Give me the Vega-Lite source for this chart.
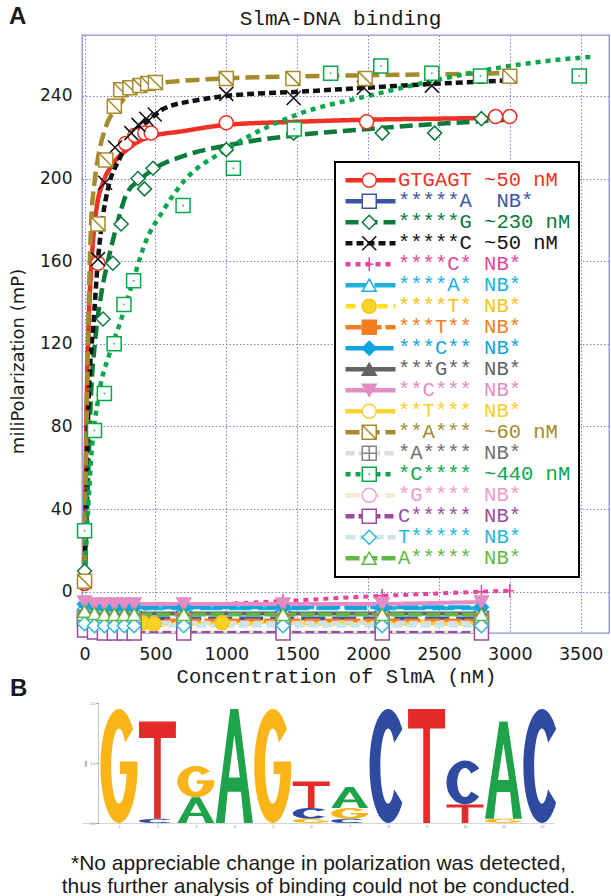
{
  "$schema": "https://vega.github.io/schema/vega-lite/v6.json",
  "background": "white",
  "padding": {"left": 8, "top": 5, "right": 0, "bottom": 0},
  "title": {"text": "A", "anchor": "start", "font": "Liberation Sans", "fontSize": 24, "fontWeight": "bold", "offset": -22},
  "datasets": {
    "curves": [
      {"series": "GTGAGT", "conc": 0, "mp": 3}, {"series": "GTGAGT", "conc": 10, "mp": 70}, {"series": "GTGAGT", "conc": 20, "mp": 108}, {"series": "GTGAGT", "conc": 30, "mp": 132}, {"series": "GTGAGT", "conc": 45, "mp": 155}, {"series": "GTGAGT", "conc": 60, "mp": 170}, {"series": "GTGAGT", "conc": 90, "mp": 188}, {"series": "GTGAGT", "conc": 130, "mp": 198}, {"series": "GTGAGT", "conc": 200, "mp": 207}, {"series": "GTGAGT", "conc": 300, "mp": 214}, {"series": "GTGAGT", "conc": 450, "mp": 220}, {"series": "GTGAGT", "conc": 700, "mp": 223}, {"series": "GTGAGT", "conc": 1000, "mp": 226}, {"series": "GTGAGT", "conc": 1500, "mp": 227.5}, {"series": "GTGAGT", "conc": 2000, "mp": 228.5}, {"series": "GTGAGT", "conc": 2500, "mp": 229}, {"series": "GTGAGT", "conc": 3000, "mp": 229.5},
      {"series": "*****G", "conc": 0, "mp": 3}, {"series": "*****G", "conc": 20, "mp": 45}, {"series": "*****G", "conc": 45, "mp": 95}, {"series": "*****G", "conc": 74, "mp": 121}, {"series": "*****G", "conc": 120, "mp": 145}, {"series": "*****G", "conc": 165, "mp": 160}, {"series": "*****G", "conc": 230, "mp": 178}, {"series": "*****G", "conc": 293, "mp": 192}, {"series": "*****G", "conc": 400, "mp": 200}, {"series": "*****G", "conc": 497, "mp": 205}, {"series": "*****G", "conc": 700, "mp": 211}, {"series": "*****G", "conc": 1000, "mp": 216}, {"series": "*****G", "conc": 1500, "mp": 221}, {"series": "*****G", "conc": 2000, "mp": 224}, {"series": "*****G", "conc": 2500, "mp": 226.5}, {"series": "*****G", "conc": 3000, "mp": 228.5},
      {"series": "*****C", "conc": 0, "mp": 3}, {"series": "*****C", "conc": 10, "mp": 40}, {"series": "*****C", "conc": 25, "mp": 85}, {"series": "*****C", "conc": 40, "mp": 110}, {"series": "*****C", "conc": 60, "mp": 127}, {"series": "*****C", "conc": 95, "mp": 161}, {"series": "*****C", "conc": 130, "mp": 182}, {"series": "*****C", "conc": 165, "mp": 195}, {"series": "*****C", "conc": 250, "mp": 210}, {"series": "*****C", "conc": 330, "mp": 220}, {"series": "*****C", "conc": 450, "mp": 228}, {"series": "*****C", "conc": 565, "mp": 234}, {"series": "*****C", "conc": 800, "mp": 238}, {"series": "*****C", "conc": 1000, "mp": 240}, {"series": "*****C", "conc": 1500, "mp": 242}, {"series": "*****C", "conc": 2000, "mp": 244}, {"series": "*****C", "conc": 2500, "mp": 246}, {"series": "*****C", "conc": 3000, "mp": 247.5},
      {"series": "**A***", "conc": 0, "mp": 3}, {"series": "**A***", "conc": 10, "mp": 60}, {"series": "**A***", "conc": 20, "mp": 105}, {"series": "**A***", "conc": 30, "mp": 140}, {"series": "**A***", "conc": 46, "mp": 178}, {"series": "**A***", "conc": 70, "mp": 198}, {"series": "**A***", "conc": 95, "mp": 210}, {"series": "**A***", "conc": 150, "mp": 225}, {"series": "**A***", "conc": 237, "mp": 235}, {"series": "**A***", "conc": 350, "mp": 243}, {"series": "**A***", "conc": 500, "mp": 246}, {"series": "**A***", "conc": 1000, "mp": 248.5}, {"series": "**A***", "conc": 1500, "mp": 249.5}, {"series": "**A***", "conc": 2000, "mp": 250}, {"series": "**A***", "conc": 2500, "mp": 250.5}, {"series": "**A***", "conc": 3000, "mp": 251},
      {"series": "*C****", "conc": 0, "mp": 3}, {"series": "*C****", "conc": 10, "mp": 20}, {"series": "*C****", "conc": 25, "mp": 40}, {"series": "*C****", "conc": 45, "mp": 63}, {"series": "*C****", "conc": 100, "mp": 95}, {"series": "*C****", "conc": 175, "mp": 115}, {"series": "*C****", "conc": 250, "mp": 130}, {"series": "*C****", "conc": 340, "mp": 150}, {"series": "*C****", "conc": 423, "mp": 168}, {"series": "*C****", "conc": 550, "mp": 184}, {"series": "*C****", "conc": 705, "mp": 199}, {"series": "*C****", "conc": 1000, "mp": 214}, {"series": "*C****", "conc": 1500, "mp": 231}, {"series": "*C****", "conc": 2000, "mp": 240}, {"series": "*C****", "conc": 2500, "mp": 248}, {"series": "*C****", "conc": 3000, "mp": 254.5}, {"series": "*C****", "conc": 3500, "mp": 258.5}, {"series": "*C****", "conc": 3600, "mp": 259}
    ],
    "meas": [
      {"series": "GTGAGT", "conc": 0, "mp": 4}, {"series": "GTGAGT", "conc": 95, "mp": 159}, {"series": "GTGAGT", "conc": 290, "mp": 217}, {"series": "GTGAGT", "conc": 355, "mp": 221}, {"series": "GTGAGT", "conc": 425, "mp": 222}, {"series": "GTGAGT", "conc": 470, "mp": 222}, {"series": "GTGAGT", "conc": 1000, "mp": 227}, {"series": "GTGAGT", "conc": 1990, "mp": 227.5}, {"series": "GTGAGT", "conc": 2900, "mp": 230}, {"series": "GTGAGT", "conc": 3000, "mp": 230},
      {"series": "*****A", "conc": 0, "mp": -12}, {"series": "*****A", "conc": 70, "mp": -13}, {"series": "*****A", "conc": 140, "mp": -13}, {"series": "*****A", "conc": 210, "mp": -13.5}, {"series": "*****A", "conc": 280, "mp": -13.5}, {"series": "*****A", "conc": 350, "mp": -13}, {"series": "*****A", "conc": 700, "mp": -13}, {"series": "*****A", "conc": 1400, "mp": -13}, {"series": "*****A", "conc": 2100, "mp": -13}, {"series": "*****A", "conc": 2800, "mp": -13},
      {"series": "*****G", "conc": 0, "mp": 10}, {"series": "*****G", "conc": 131, "mp": 132}, {"series": "*****G", "conc": 200, "mp": 159}, {"series": "*****G", "conc": 258, "mp": 178}, {"series": "*****G", "conc": 377, "mp": 200}, {"series": "*****G", "conc": 423, "mp": 195}, {"series": "*****G", "conc": 483, "mp": 205}, {"series": "*****G", "conc": 1000, "mp": 214}, {"series": "*****G", "conc": 1475, "mp": 222}, {"series": "*****G", "conc": 2100, "mp": 222}, {"series": "*****G", "conc": 2470, "mp": 222}, {"series": "*****G", "conc": 2800, "mp": 229},
      {"series": "*****C", "conc": 0, "mp": 5}, {"series": "*****C", "conc": 95, "mp": 161}, {"series": "*****C", "conc": 145, "mp": 198}, {"series": "*****C", "conc": 215, "mp": 215}, {"series": "*****C", "conc": 330, "mp": 222}, {"series": "*****C", "conc": 380, "mp": 226}, {"series": "*****C", "conc": 435, "mp": 229}, {"series": "*****C", "conc": 495, "mp": 231}, {"series": "*****C", "conc": 1000, "mp": 241}, {"series": "*****C", "conc": 1475, "mp": 239}, {"series": "*****C", "conc": 1970, "mp": 244}, {"series": "*****C", "conc": 2450, "mp": 245},
      {"series": "****C*", "conc": 0, "mp": -7}, {"series": "****C*", "conc": 70, "mp": -9}, {"series": "****C*", "conc": 140, "mp": -9}, {"series": "****C*", "conc": 210, "mp": -9}, {"series": "****C*", "conc": 280, "mp": -9}, {"series": "****C*", "conc": 350, "mp": -8.5}, {"series": "****C*", "conc": 700, "mp": -7}, {"series": "****C*", "conc": 1400, "mp": -4.5}, {"series": "****C*", "conc": 2100, "mp": -2}, {"series": "****C*", "conc": 2800, "mp": 0}, {"series": "****C*", "conc": 3000, "mp": 0.5},
      {"series": "****A*", "conc": 0, "mp": -6}, {"series": "****A*", "conc": 70, "mp": -7}, {"series": "****A*", "conc": 140, "mp": -7.5}, {"series": "****A*", "conc": 210, "mp": -8}, {"series": "****A*", "conc": 280, "mp": -8}, {"series": "****A*", "conc": 350, "mp": -8}, {"series": "****A*", "conc": 700, "mp": -8}, {"series": "****A*", "conc": 1400, "mp": -8}, {"series": "****A*", "conc": 2100, "mp": -8}, {"series": "****A*", "conc": 2800, "mp": -8},
      {"series": "****T*", "conc": 0, "mp": -14}, {"series": "****T*", "conc": 70, "mp": -14}, {"series": "****T*", "conc": 140, "mp": -14}, {"series": "****T*", "conc": 210, "mp": -14}, {"series": "****T*", "conc": 280, "mp": -14}, {"series": "****T*", "conc": 350, "mp": -14}, {"series": "****T*", "conc": 410, "mp": -15}, {"series": "****T*", "conc": 490, "mp": -15.5}, {"series": "****T*", "conc": 970, "mp": -15}, {"series": "****T*", "conc": 1400, "mp": -14.5}, {"series": "****T*", "conc": 2100, "mp": -14.5}, {"series": "****T*", "conc": 2800, "mp": -14.5},
      {"series": "***T**", "conc": 0, "mp": -13}, {"series": "***T**", "conc": 70, "mp": -14}, {"series": "***T**", "conc": 140, "mp": -14}, {"series": "***T**", "conc": 210, "mp": -14}, {"series": "***T**", "conc": 280, "mp": -14}, {"series": "***T**", "conc": 350, "mp": -14}, {"series": "***T**", "conc": 700, "mp": -14}, {"series": "***T**", "conc": 1400, "mp": -14}, {"series": "***T**", "conc": 2100, "mp": -14}, {"series": "***T**", "conc": 2800, "mp": -14},
      {"series": "***C**", "conc": 0, "mp": -6}, {"series": "***C**", "conc": 70, "mp": -7}, {"series": "***C**", "conc": 140, "mp": -7.5}, {"series": "***C**", "conc": 210, "mp": -7.5}, {"series": "***C**", "conc": 280, "mp": -7.5}, {"series": "***C**", "conc": 350, "mp": -7.5}, {"series": "***C**", "conc": 700, "mp": -7.5}, {"series": "***C**", "conc": 1400, "mp": -7.5}, {"series": "***C**", "conc": 2100, "mp": -7.5}, {"series": "***C**", "conc": 2800, "mp": -7.5},
      {"series": "***G**", "conc": 0, "mp": -9}, {"series": "***G**", "conc": 70, "mp": -10}, {"series": "***G**", "conc": 140, "mp": -10.5}, {"series": "***G**", "conc": 210, "mp": -10.5}, {"series": "***G**", "conc": 280, "mp": -10.5}, {"series": "***G**", "conc": 350, "mp": -10.5}, {"series": "***G**", "conc": 700, "mp": -10.5}, {"series": "***G**", "conc": 1400, "mp": -10.5}, {"series": "***G**", "conc": 2100, "mp": -10.5}, {"series": "***G**", "conc": 2800, "mp": -10.5},
      {"series": "**C***", "conc": 0, "mp": -5}, {"series": "**C***", "conc": 70, "mp": -6}, {"series": "**C***", "conc": 140, "mp": -6}, {"series": "**C***", "conc": 210, "mp": -6}, {"series": "**C***", "conc": 280, "mp": -6}, {"series": "**C***", "conc": 350, "mp": -6}, {"series": "**C***", "conc": 700, "mp": -6}, {"series": "**C***", "conc": 1400, "mp": -6}, {"series": "**C***", "conc": 2100, "mp": -6}, {"series": "**C***", "conc": 2800, "mp": -5},
      {"series": "**T***", "conc": 0, "mp": -15}, {"series": "**T***", "conc": 70, "mp": -15.5}, {"series": "**T***", "conc": 140, "mp": -15.5}, {"series": "**T***", "conc": 210, "mp": -15.5}, {"series": "**T***", "conc": 280, "mp": -15.5}, {"series": "**T***", "conc": 350, "mp": -15.5}, {"series": "**T***", "conc": 700, "mp": -15.5}, {"series": "**T***", "conc": 1400, "mp": -15.5}, {"series": "**T***", "conc": 2100, "mp": -15.5}, {"series": "**T***", "conc": 2800, "mp": -15.5},
      {"series": "**A***", "conc": 0, "mp": 5}, {"series": "**A***", "conc": 95, "mp": 178}, {"series": "**A***", "conc": 150, "mp": 209}, {"series": "**A***", "conc": 210, "mp": 235}, {"series": "**A***", "conc": 255, "mp": 243}, {"series": "**A***", "conc": 320, "mp": 244}, {"series": "**A***", "conc": 390, "mp": 245}, {"series": "**A***", "conc": 445, "mp": 246}, {"series": "**A***", "conc": 500, "mp": 246.5}, {"series": "**A***", "conc": 1000, "mp": 248.5}, {"series": "**A***", "conc": 1470, "mp": 248.5}, {"series": "**A***", "conc": 1980, "mp": 248.5}, {"series": "**A***", "conc": 3000, "mp": 249.5},
      {"series": "*A****", "conc": 0, "mp": -14}, {"series": "*A****", "conc": 70, "mp": -15}, {"series": "*A****", "conc": 140, "mp": -15}, {"series": "*A****", "conc": 210, "mp": -15}, {"series": "*A****", "conc": 280, "mp": -15}, {"series": "*A****", "conc": 350, "mp": -15}, {"series": "*A****", "conc": 700, "mp": -15}, {"series": "*A****", "conc": 1400, "mp": -15}, {"series": "*A****", "conc": 2100, "mp": -15}, {"series": "*A****", "conc": 2800, "mp": -15},
      {"series": "*C****", "conc": 0, "mp": 29.5}, {"series": "*C****", "conc": 70, "mp": 78}, {"series": "*C****", "conc": 140, "mp": 96}, {"series": "*C****", "conc": 209, "mp": 120}, {"series": "*C****", "conc": 278, "mp": 139}, {"series": "*C****", "conc": 346, "mp": 150.5}, {"series": "*C****", "conc": 695, "mp": 187}, {"series": "*C****", "conc": 1050, "mp": 205}, {"series": "*C****", "conc": 1480, "mp": 224}, {"series": "*C****", "conc": 1736, "mp": 251}, {"series": "*C****", "conc": 2090, "mp": 254.5}, {"series": "*C****", "conc": 2450, "mp": 251}, {"series": "*C****", "conc": 2793, "mp": 249.6}, {"series": "*C****", "conc": 3490, "mp": 249.6},
      {"series": "*G****", "conc": 0, "mp": -18}, {"series": "*G****", "conc": 70, "mp": -19}, {"series": "*G****", "conc": 140, "mp": -19.5}, {"series": "*G****", "conc": 210, "mp": -19.5}, {"series": "*G****", "conc": 280, "mp": -19.5}, {"series": "*G****", "conc": 350, "mp": -19.5}, {"series": "*G****", "conc": 700, "mp": -19.5}, {"series": "*G****", "conc": 1400, "mp": -19.5}, {"series": "*G****", "conc": 2100, "mp": -19.5}, {"series": "*G****", "conc": 2800, "mp": -19.5},
      {"series": "C*****", "conc": 0, "mp": -18.5}, {"series": "C*****", "conc": 70, "mp": -19.5}, {"series": "C*****", "conc": 140, "mp": -20}, {"series": "C*****", "conc": 210, "mp": -20}, {"series": "C*****", "conc": 280, "mp": -20}, {"series": "C*****", "conc": 350, "mp": -20}, {"series": "C*****", "conc": 700, "mp": -20}, {"series": "C*****", "conc": 1400, "mp": -20}, {"series": "C*****", "conc": 2100, "mp": -20}, {"series": "C*****", "conc": 2800, "mp": -20},
      {"series": "T*****", "conc": 0, "mp": -15.5}, {"series": "T*****", "conc": 70, "mp": -16.5}, {"series": "T*****", "conc": 140, "mp": -16.5}, {"series": "T*****", "conc": 210, "mp": -16.5}, {"series": "T*****", "conc": 280, "mp": -16.5}, {"series": "T*****", "conc": 350, "mp": -16.5}, {"series": "T*****", "conc": 700, "mp": -16.5}, {"series": "T*****", "conc": 1400, "mp": -16.5}, {"series": "T*****", "conc": 2100, "mp": -16.5}, {"series": "T*****", "conc": 2800, "mp": -16.5},
      {"series": "A*****", "conc": 0, "mp": -9.5}, {"series": "A*****", "conc": 70, "mp": -10.5}, {"series": "A*****", "conc": 140, "mp": -11}, {"series": "A*****", "conc": 210, "mp": -11}, {"series": "A*****", "conc": 280, "mp": -11}, {"series": "A*****", "conc": 350, "mp": -11}, {"series": "A*****", "conc": 700, "mp": -11}, {"series": "A*****", "conc": 1400, "mp": -11}, {"series": "A*****", "conc": 2100, "mp": -11}, {"series": "A*****", "conc": 2800, "mp": -11}
    ],
    "logo": [
      {"pos": 1, "base": "G", "letter": "1G", "bits": 1.9},
      {"pos": 2, "base": "T", "letter": "2T", "bits": 1.62},
      {"pos": 2, "base": "C", "letter": "2C", "bits": 0.07},
      {"pos": 3, "base": "G", "letter": "3G", "bits": 0.52},
      {"pos": 3, "base": "A", "letter": "3A", "bits": 0.43},
      {"pos": 4, "base": "A", "letter": "4A", "bits": 1.9},
      {"pos": 5, "base": "G", "letter": "5G", "bits": 1.9},
      {"pos": 6, "base": "T", "letter": "6T", "bits": 0.44},
      {"pos": 6, "base": "C", "letter": "6C", "bits": 0.18},
      {"pos": 6, "base": "G", "letter": "6G", "bits": 0.07},
      {"pos": 7, "base": "A", "letter": "7A", "bits": 0.35},
      {"pos": 7, "base": "G", "letter": "7G", "bits": 0.18},
      {"pos": 7, "base": "C", "letter": "7C", "bits": 0.07},
      {"pos": 8, "base": "C", "letter": "8C", "bits": 1.9},
      {"pos": 9, "base": "T", "letter": "9T", "bits": 1.9},
      {"pos": 10, "base": "C", "letter": "10C", "bits": 0.73},
      {"pos": 10, "base": "T", "letter": "10T", "bits": 0.31},
      {"pos": 11, "base": "A", "letter": "11A", "bits": 1.62},
      {"pos": 11, "base": "G", "letter": "11G", "bits": 0.07},
      {"pos": 12, "base": "C", "letter": "12C", "bits": 1.9}
    ]
  },
  "spacing": -11,
  "vconcat": [
    {
      "width": 527,
      "height": 598,
      "title": {"text": "SlmA-DNA binding", "font": "Liberation Mono", "fontSize": 21, "fontWeight": "normal", "anchor": "middle", "dx": -5, "offset": 6},
      "layer": [
        {
          "data": {"name": "curves"},
          "mark": {"type": "line", "strokeWidth": 4.5, "interpolate": "monotone", "clip": true},
          "encoding": {
            "x": {"field": "conc", "type": "quantitative", "scale": {"domain": [-18, 3700], "nice": false, "zero": false},
              "axis": {"values": [0, 500, 1000, 1500, 2000, 2500, 3000, 3500], "format": "d", "grid": true, "labelFont": "DejaVu Sans", "labelFontSize": 17.5, "labelPadding": 12, "labelFlush": false, "title": "Concentration of SlmA (nM)", "titleFont": "Liberation Mono", "titleFontSize": 20.5, "titleFontWeight": "normal", "titlePadding": 4, "titleX": 254}},
            "y": {"field": "mp", "type": "quantitative", "scale": {"domain": [-20, 269.5], "nice": false, "zero": false},
              "axis": {"values": [0, 40, 80, 120, 160, 200, 240], "grid": true, "labelFont": "DejaVu Sans", "labelFontSize": 17, "labelPadding": 10, "title": "miliPolarization (mP)", "titleFont": "DejaVu Sans", "titleFontSize": 18, "titleFontWeight": "normal", "titlePadding": 12, "titleY": 326}},
            "color": {"field": "series", "type": "nominal",
              "scale": {"domain": ["GTGAGT", "*****A", "*****G", "*****C", "****C*", "****A*", "****T*", "***T**", "***C**", "***G**", "**C***", "**T***", "**A***", "*A****", "*C****", "*G****", "C*****", "T*****", "A*****"],
                "range": ["#ee3124", "#3b55a5", "#0b7a3b", "#111111", "#e8469a", "#1bb2dd", "#ffe21a", "#f47d20", "#11a5e0", "#626366", "#e48cc4", "#fbd431", "#a68a2b", "#dcdcdc", "#0aa64c", "#f3e9cf", "#9c4b9e", "#c9e6ea", "#62b846"]},
              "legend": {"orient": "none", "legendX": 253, "legendY": 127, "title": null, "symbolType": "stroke", "symbolSize": 2500, "symbolStrokeWidth": 4.5, "labelFont": "Liberation Mono", "labelFontSize": 20.5, "labelOffset": 0, "labelLimit": 400, "rowPadding": -0.35, "clipHeight": 20.5, "padding": 8, "strokeColor": "#000000", "fillColor": "#ffffff",
                "labelExpr": "datum.label + ['\u00a0~50\u00a0nM', '\u00a0\u00a0NB*', '\u00a0~230\u00a0nM', '\u00a0~50\u00a0nM', '\u00a0NB*', '\u00a0NB*', '\u00a0NB*', '\u00a0NB*', '\u00a0NB*', '\u00a0NB*', '\u00a0NB*', '\u00a0NB*', '\u00a0~60\u00a0nM', '\u00a0NB*', '\u00a0~440\u00a0nM', '\u00a0NB*', '\u00a0NB*', '\u00a0NB*', '\u00a0NB*'][indexof(['GTGAGT', '*****A', '*****G', '*****C', '****C*', '****A*', '****T*', '***T**', '***C**', '***G**', '**C***', '**T***', '**A***', '*A****', '*C****', '*G****', 'C*****', 'T*****', 'A*****'], datum.label)]",
                "labelColor": {"expr": "['#ee3124', '#3b55a5', '#0b7a3b', '#111111', '#e8469a', '#1bb2dd', '#f5c518', '#f47d20', '#11a5e0', '#626366', '#e48cc4', '#f7cf2a', '#a68a2b', '#707070', '#0aa64c', '#ee9ccb', '#9c4b9e', '#27b7da', '#62b846'][indexof(['GTGAGT', '*****A', '*****G', '*****C', '****C*', '****A*', '****T*', '***T**', '***C**', '***G**', '**C***', '**T***', '**A***', '*A****', '*C****', '*G****', 'C*****', 'T*****', 'A*****'], datum.value)]"},
                "encode": {"legend": {"update": {"strokeWidth": {"value": 2}}}}}},
            "strokeDash": {"field": "series", "type": "nominal",
              "scale": {"domain": ["GTGAGT", "*****A", "*****G", "*****C", "****C*", "****A*", "****T*", "***T**", "***C**", "***G**", "**C***", "**T***", "**A***", "*A****", "*C****", "*G****", "C*****", "T*****", "A*****"],
                "range": [[1, 0], [24, 7], [13, 6], [7, 4], [5, 5], [22, 7], [10, 6], [16, 4], [22, 4], [1, 0], [1, 0], [22, 9], [14, 6], [9, 4], [5, 5], [14, 6], [9, 4], [10, 4], [14, 4]]}}
          }
        },
        {
          "data": {"name": "meas"},
          "transform": [{"filter": {"field": "series", "oneOf": ["*****A", "****C*", "****A*", "****T*", "***T**", "***C**", "***G**", "**C***", "**T***", "*A****", "*G****", "C*****", "T*****", "A*****"]}}],
          "mark": {"type": "line", "strokeWidth": 4, "clip": true},
          "encoding": {
            "x": {"field": "conc", "type": "quantitative"},
            "y": {"field": "mp", "type": "quantitative"},
            "color": {"field": "series", "type": "nominal",
              "scale": {"domain": ["GTGAGT", "*****A", "*****G", "*****C", "****C*", "****A*", "****T*", "***T**", "***C**", "***G**", "**C***", "**T***", "**A***", "*A****", "*C****", "*G****", "C*****", "T*****", "A*****"],
                "range": ["#ee3124", "#3b55a5", "#0b7a3b", "#111111", "#e8469a", "#1bb2dd", "#ffe21a", "#f47d20", "#11a5e0", "#626366", "#e48cc4", "#fbd431", "#a68a2b", "#dcdcdc", "#0aa64c", "#f3e9cf", "#9c4b9e", "#c9e6ea", "#62b846"]},
              "legend": null},
            "strokeDash": {"field": "series", "type": "nominal",
              "scale": {"domain": ["GTGAGT", "*****A", "*****G", "*****C", "****C*", "****A*", "****T*", "***T**", "***C**", "***G**", "**C***", "**T***", "**A***", "*A****", "*C****", "*G****", "C*****", "T*****", "A*****"],
                "range": [[1, 0], [24, 7], [13, 6], [7, 4], [5, 5], [22, 7], [10, 6], [16, 4], [22, 4], [1, 0], [1, 0], [22, 9], [14, 6], [9, 4], [5, 5], [14, 6], [9, 4], [10, 4], [14, 4]]},
              "legend": null}
          }
        },
        {
          "data": {"name": "meas"},
          "mark": {"type": "point", "size": 196, "strokeWidth": 1.5, "opacity": 1, "filled": false},
          "encoding": {
            "x": {"field": "conc", "type": "quantitative"},
            "y": {"field": "mp", "type": "quantitative"},
            "shape": {"field": "series", "type": "nominal", "sort": null,
              "scale": {"range": ["circle", "square", "diamond", "M-1,-1L1,1M-1,1L1,-1", "M0,-1L0,1M-0.6,0L0.6,0", "triangle-up", "circle", "square", "diamond", "triangle-up", "triangle-down", "circle", "M-1,-1L1,-1L1,1L-1,1ZM-1,-1L1,1", "M-1,-1L1,-1L1,1L-1,1ZM0,-1L0,1M-1,0L1,0", "M-1,-1L1,-1L1,1L-1,1ZM-0.1,0L0.1,0", "circle", "square", "diamond", "triangle-up"]},
              "legend": {"orient": "none", "legendX": 277, "legendY": 135, "title": null, "symbolSize": 196, "symbolStrokeWidth": 1.5, "labelFont": "Liberation Mono", "labelFontSize": 20.5, "labelExpr": "' '", "labelOffset": 0, "rowPadding": -0.35, "clipHeight": 20.5, "padding": 0}},
            "stroke": {"field": "series", "type": "nominal", "sort": null,
              "scale": {"range": ["#ee3124", "#3b55a5", "#0b7a3b", "#111111", "#e8469a", "#1bb2dd", "#f5c518", "#f47d20", "#11a5e0", "#626366", "#e48cc4", "#f7cf2a", "#a68a2b", "#858585", "#0aa64c", "#ee9ccb", "#9c4b9e", "#27b7da", "#62b846"]}},
            "fill": {"field": "series", "type": "nominal", "sort": null,
              "scale": {"range": ["white", "white", "white", "white", "white", "white", "#f9d423", "#f47d20", "#11a5e0", "#626366", "#e48cc4", "white", "white", "white", "white", "white", "white", "white", "white"]}}
          }
        }
      ]
    },
    {
      "width": 472,
      "height": 120,
      "view": {"stroke": null},
      "title": {"text": "B", "anchor": "start", "frame": "group", "font": "Liberation Sans", "fontSize": 24, "fontWeight": "bold", "dx": -72, "offset": 0},
      "data": {"name": "logo"},
      "transform": [{"stack": "bits", "groupby": ["pos"], "sort": [{"field": "bits", "order": "ascending"}], "as": ["b0", "b1"]}],
      "mark": {"type": "point", "filled": true, "opacity": 1, "strokeWidth": 0},
      "encoding": {
        "x": {"field": "pos", "type": "quantitative", "scale": {"domain": [0.038, 12.314], "nice": false, "zero": false},
          "axis": {"values": [1, 2, 3, 4, 5, 6, 7, 8, 9, 10, 11, 12], "grid": false, "domain": true, "domainColor": "#aaaaaa", "domainWidth": 0.5, "ticks": false, "labelFontSize": 4, "labelPadding": 1, "labelColor": "#888888",
            "title": ["*No appreciable change in polarization was detected,", "thus further analysis of binding could not be conducted."], "titleFont": "Liberation Sans", "titleFontSize": 21, "titleFontWeight": "normal", "titleLineHeight": 23, "titlePadding": 24}},
        "y": {"field": "b1", "type": "quantitative", "scale": {"domain": [0, 2], "nice": false},
          "axis": {"values": [0, 1, 2], "grid": false, "domain": true, "domainColor": "#888888", "domainWidth": 0.5, "ticks": true, "tickSize": 2, "tickColor": "#888888", "labelFontSize": 4, "labelPadding": 1, "labelColor": "#888888", "title": "bits", "titleFontSize": 4, "titleFontWeight": "normal", "titlePadding": 2, "offset": -16}},
        "size": {"field": "bits", "type": "quantitative", "scale": {"type": "pow", "exponent": 2, "domain": [0, 2], "range": [0, 14400]}, "legend": null},
        "shape": {"field": "letter", "type": "nominal",
          "scale": {"domain": ["1G", "2T", "2C", "3G", "3A", "4A", "5G", "6T", "6C", "6G", "7A", "7G", "7C", "8C", "9T", "10C", "10T", "11A", "11G", "12C"],
            "range": [
              "M0.249,0.357A0.325 1 0 1 0 0.3234 1.1L0.3234,0.92L0.0163,0.92L0.0163,1.14L0.1333,1.14A0.1365 0.66 0 1 1 0.107 0.592Z",
              "M-0.38,0L0.38,0L0.38,0.34L0.0684,0.34L0.0684,2L-0.0684,2L-0.0684,0.34L-0.38,0.34Z",
              "M6.749,0.357A8.81 1 0 1 0 6.749 1.643L2.907,1.408A3.7 0.66 0 1 1 2.907 0.592Z",
              "M0.9085,0.357A1.186 1 0 1 0 1.18 1.1L1.18,0.92L0.0593,0.92L0.0593,1.14L0.4863,1.14A0.4981 0.66 0 1 1 0.3914 0.592Z",
              "M-0.3155,0L0.3155,0L1.434,2L0.7457,2L0.5162,1.45L-0.5162,1.45L-0.7457,2L-1.434,2ZM-0.4302,1.2L0.4302,1.2L0,0.45Z",
              "M-0.0715,0L0.0715,0L0.325,2L0.169,2L0.117,1.45L-0.117,1.45L-0.169,2L-0.325,2ZM-0.0975,1.2L0.0975,1.2L0,0.45Z",
              "M0.249,0.357A0.325 1 0 1 0 0.3234 1.1L0.3234,0.92L0.0163,0.92L0.0163,1.14L0.1333,1.14A0.1365 0.66 0 1 1 0.107 0.592Z",
              "M-1.402,0L1.402,0L1.402,0.34L0.2524,0.34L0.2524,2L-0.2524,2L-0.2524,0.34L-1.402,0.34Z",
              "M2.624,0.357A3.426 1 0 1 0 2.624 1.643L1.131,1.408A1.439 0.66 0 1 1 1.131 0.592Z",
              "M6.749,0.357A8.81 1 0 1 0 8.766 1.1L8.766,0.92L0.44,0.92L0.44,1.14L3.614,1.14A3.7 0.66 0 1 1 2.907 0.592Z",
              "M-0.3876,0L0.3876,0L1.762,2L0.9162,2L0.6343,1.45L-0.6343,1.45L-0.9162,2L-1.762,2ZM-0.5286,1.2L0.5286,1.2L0,0.45Z",
              "M2.624,0.357A3.426 1 0 1 0 3.409 1.1L3.409,0.92L0.171,0.92L0.171,1.14L1.405,1.14A1.439 0.66 0 1 1 1.131 0.592Z",
              "M6.749,0.357A8.81 1 0 1 0 6.749 1.643L2.907,1.408A3.7 0.66 0 1 1 2.907 0.592Z",
              "M0.249,0.357A0.325 1 0 1 0 0.249 1.643L0.107,1.408A0.1365 0.66 0 1 1 0.107 0.592Z",
              "M-0.325,0L0.325,0L0.325,0.34L0.0585,0.34L0.0585,2L-0.0585,2L-0.0585,0.34L-0.325,0.34Z",
              "M0.6473,0.357A0.845 1 0 1 0 0.6473 1.643L0.2789,1.408A0.3549 0.66 0 1 1 0.2789 0.592Z",
              "M-1.989,0L1.989,0L1.989,0.34L0.358,0.34L0.358,2L-0.358,2L-0.358,0.34L-1.989,0.34Z",
              "M-0.0836,0L0.0836,0L0.38,2L0.1976,2L0.1368,1.45L-0.1368,1.45L-0.1976,2L-0.38,2ZM-0.114,1.2L0.114,1.2L0,0.45Z",
              "M6.749,0.357A8.81 1 0 1 0 8.766 1.1L8.766,0.92L0.44,0.92L0.44,1.14L3.614,1.14A3.7 0.66 0 1 1 2.907 0.592Z",
              "M0.249,0.357A0.325 1 0 1 0 0.249 1.643L0.107,1.408A0.1365 0.66 0 1 1 0.107 0.592Z"
            ]}, "legend": null},
        "color": {"field": "base", "type": "nominal", "scale": {"domain": ["A", "C", "G", "T"], "range": ["#1fa34a", "#2f4b9f", "#f9b418", "#e52a2a"]}, "legend": null}
      }
    }
  ],
  "resolve": {"scale": {"x": "independent", "y": "independent", "color": "independent", "shape": "independent", "size": "independent", "fill": "independent", "stroke": "independent", "strokeDash": "independent"}},
  "config": {
    "view": {"stroke": "#8a90d8", "strokeWidth": 1.3},
    "axis": {"gridColor": "#6f76d6", "gridDash": [1.5, 2], "gridOpacity": 0.9, "gridWidth": 1, "domain": false, "ticks": false, "labelColor": "#1a1a1a", "titleColor": "#1a1a1a"},
    "title": {"color": "#1a1a1a"}
  }
}
